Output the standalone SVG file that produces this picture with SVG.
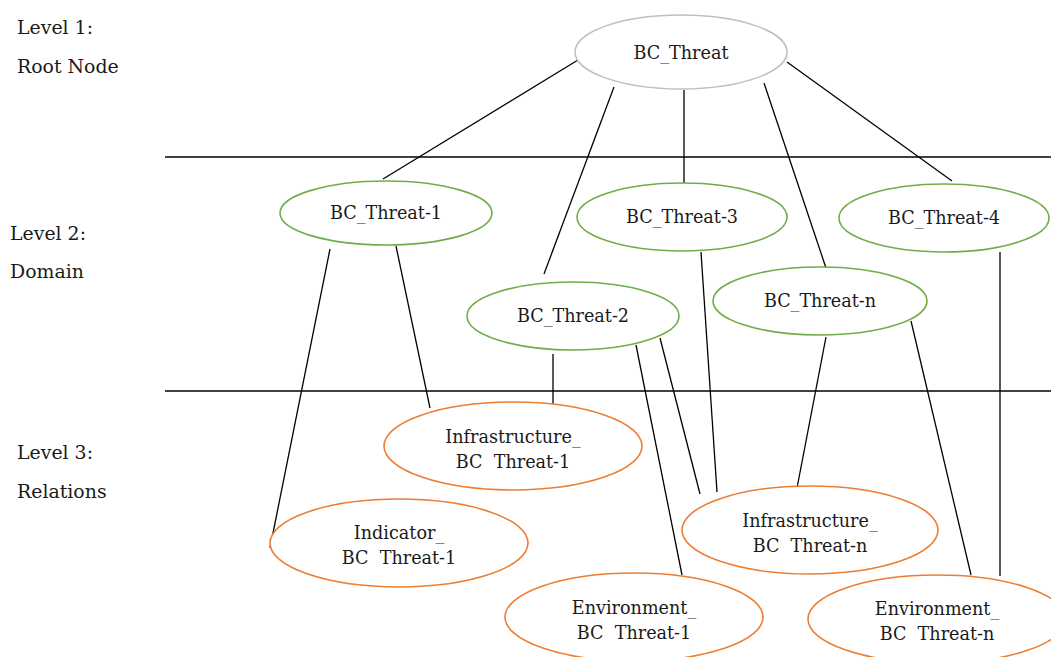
<svg xmlns="http://www.w3.org/2000/svg" width="1051" height="657" viewBox="0 0 1051 657">
<style>
.bg{fill:#ffffff}
text{font-family:'DejaVu Serif','Liberation Serif','Times New Roman',serif;fill:#1a1a1a}
.lbl{font-size:18.9px}
.t{font-size:17.6px;text-anchor:middle}
.root{fill:#fff;stroke:#bfbfbf;stroke-width:1.5}
.dom{fill:#fff;stroke:#70ad47;stroke-width:1.6}
.rel{fill:#fff;stroke:#ed7d31;stroke-width:1.6}
.c line{stroke:#000;stroke-width:1.3}
.sep{stroke:#000;stroke-width:1.3}
</style>
<rect class="bg" x="0" y="0" width="1051" height="657"/>
<g id="level-labels">
<text class="lbl" x="17" y="34">Level 1:</text>
<text class="lbl" x="17" y="73">Root Node</text>
<text class="lbl" x="10" y="240">Level 2:</text>
<text class="lbl" x="10" y="278">Domain</text>
<text class="lbl" x="17" y="459">Level 3:</text>
<text class="lbl" x="17" y="498">Relations</text>
</g>
<g id="separators">
<line class="sep" x1="165" y1="157" x2="1051" y2="157"/>
<line class="sep" x1="165" y1="391" x2="1051" y2="391"/>
</g>
<g id="connectors" class="c">
<line x1="578" y1="60" x2="383" y2="179"/>
<line x1="614" y1="87" x2="544" y2="274"/>
<line x1="684" y1="90" x2="684" y2="184"/>
<line x1="764" y1="83" x2="826" y2="268"/>
<line x1="787" y1="62" x2="952" y2="181"/>
<line x1="330" y1="249" x2="270" y2="548"/>
<line x1="396" y1="246" x2="430" y2="408"/>
<line x1="553" y1="354" x2="553" y2="405"/>
<line x1="636" y1="345" x2="682" y2="575"/>
<line x1="660" y1="338" x2="700" y2="494"/>
<line x1="701" y1="252" x2="717" y2="492"/>
<line x1="826" y1="337" x2="797" y2="488"/>
<line x1="911" y1="321" x2="971" y2="575"/>
<line x1="1000" y1="252" x2="1000" y2="576"/>
</g>
<g id="root">
<ellipse class="root" cx="681" cy="52" rx="106" ry="37"/>
<text class="t" x="681" y="59">BC_Threat</text>
</g>
<g id="threat-1">
<ellipse class="dom" cx="386" cy="213" rx="106" ry="32"/>
<text class="t" x="386" y="219">BC_Threat-1</text>
</g>
<g id="threat-3">
<ellipse class="dom" cx="682" cy="217" rx="105" ry="34"/>
<text class="t" x="682" y="223">BC_Threat-3</text>
</g>
<g id="threat-4">
<ellipse class="dom" cx="944" cy="218" rx="105" ry="34"/>
<text class="t" x="944" y="224">BC_Threat-4</text>
</g>
<g id="threat-2">
<ellipse class="dom" cx="573" cy="316" rx="106" ry="34"/>
<text class="t" x="573" y="322">BC_Threat-2</text>
</g>
<g id="threat-n">
<ellipse class="dom" cx="820" cy="301" rx="107" ry="34"/>
<text class="t" x="820" y="307">BC_Threat-n</text>
</g>
<g id="infra-1">
<ellipse class="rel" cx="513" cy="446" rx="129" ry="44"/>
<text class="t" x="513" y="443">Infrastructure_</text>
<text class="t" x="513" y="468">BC&#160; Threat-1</text>
</g>
<g id="indicator-1">
<ellipse class="rel" cx="399" cy="543" rx="129" ry="44"/>
<text class="t" x="399" y="539">Indicator_</text>
<text class="t" x="399" y="564">BC&#160; Threat-1</text>
</g>
<g id="infra-n">
<ellipse class="rel" cx="810" cy="530" rx="128" ry="44"/>
<text class="t" x="810" y="527">Infrastructure_</text>
<text class="t" x="810" y="552">BC&#160; Threat-n</text>
</g>
<g id="env-1">
<ellipse class="rel" cx="634" cy="617" rx="129" ry="44"/>
<text class="t" x="634" y="614">Environment_</text>
<text class="t" x="634" y="639">BC&#160; Threat-1</text>
</g>
<g id="env-n">
<ellipse class="rel" cx="937" cy="619" rx="129" ry="44"/>
<text class="t" x="937" y="615">Environment_</text>
<text class="t" x="937" y="640">BC&#160; Threat-n</text>
</g>
</svg>
